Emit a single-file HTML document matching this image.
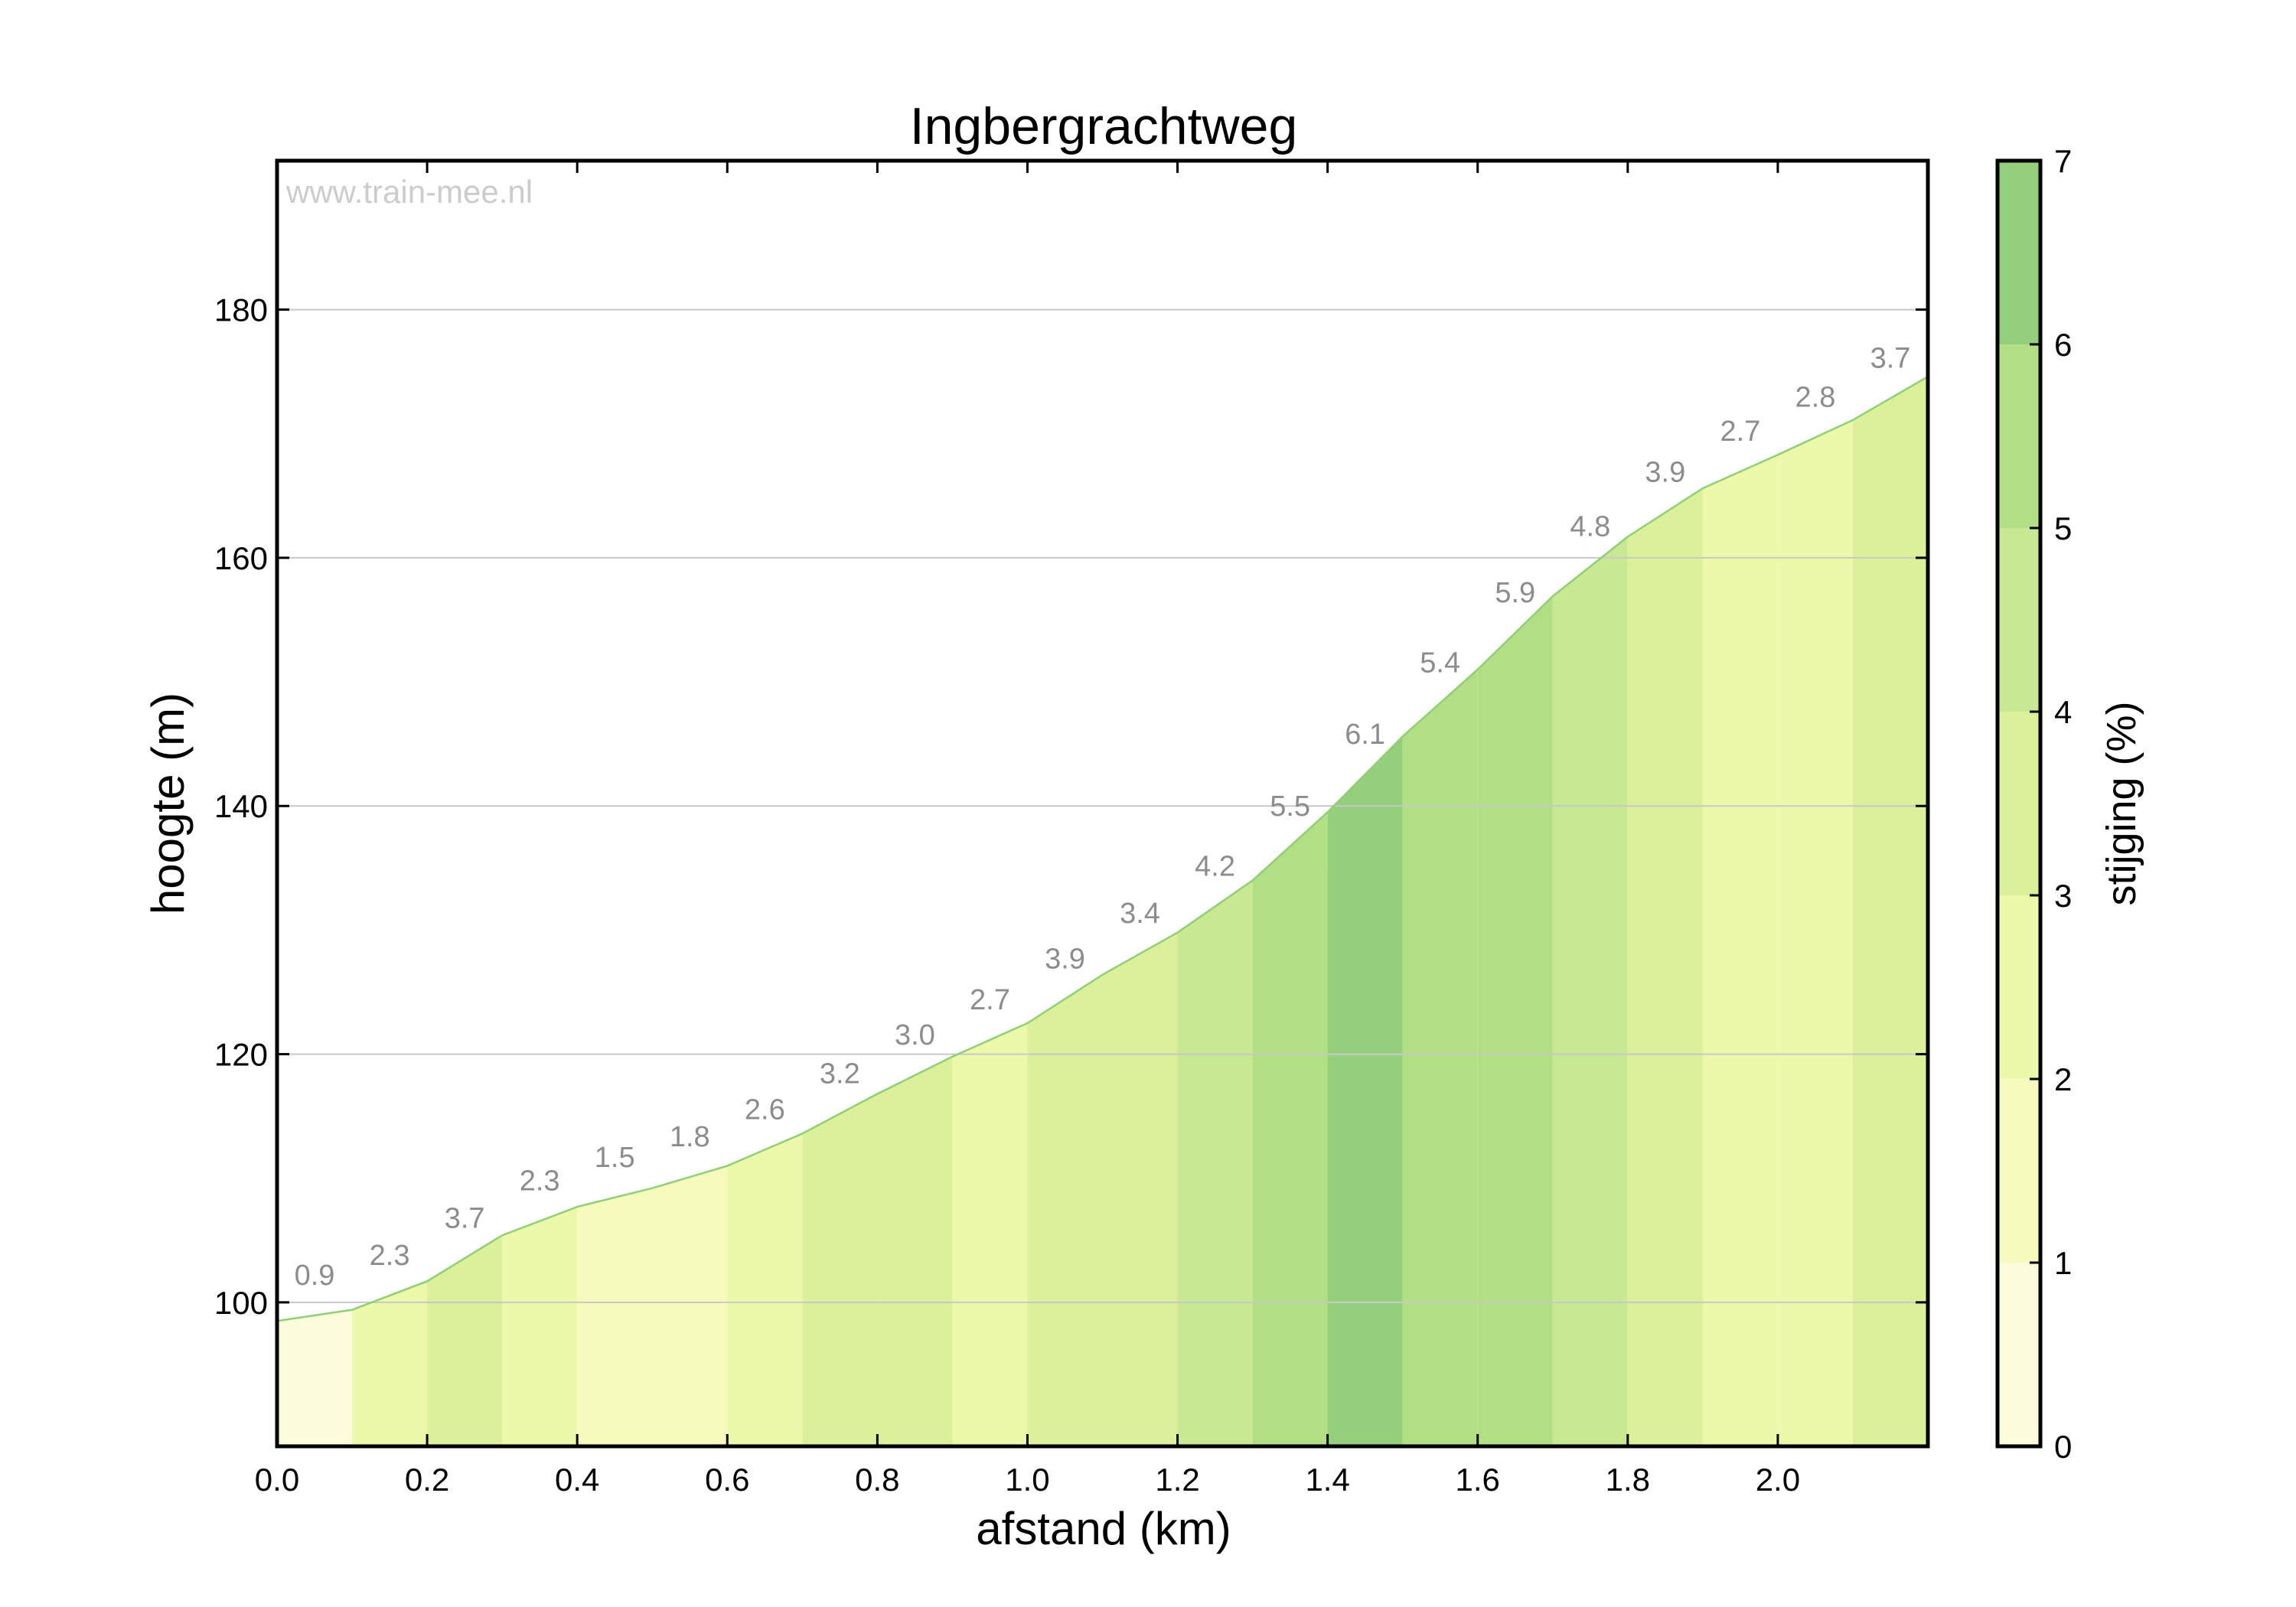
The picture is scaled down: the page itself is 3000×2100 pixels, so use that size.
<!DOCTYPE html>
<html><head><meta charset="utf-8"><style>html,body{margin:0;padding:0;background:#fff}svg{display:block}</style></head>
<body>
<svg id="chart" width="3000" height="2100" xmlns="http://www.w3.org/2000/svg" font-family="Liberation Sans, Arial, sans-serif">
<text x="1442" y="188" font-size="68" text-anchor="middle">Ingbergrachtweg</text>
<g id="plot"></g>
<text x="374" y="265" font-size="42" fill="#cccccc">www.train-mee.nl</text>
<text x="1442" y="2018" font-size="60" text-anchor="middle">afstand (km)</text>
<text x="0" y="0" font-size="60" text-anchor="middle" transform="translate(240,1050) rotate(-90)">hoogte (m)</text>
<g id="cbar"></g>
<text x="0" y="0" font-size="54" text-anchor="middle" transform="translate(2790,1050) rotate(-90)">stijging (%)</text>
</svg>
<script>
const distances = [0.0,0.1,0.2,0.3,0.4,0.5,0.6,0.7,0.8,0.9,1.0,1.1,1.2,1.3,1.4,1.5,1.6,1.7,1.8,1.9,2.0,2.1,2.2];
const elevations = [98.5,99.4,101.7,105.4,107.7,109.2,111.0,113.6,116.8,119.8,122.5,126.4,129.8,134.0,139.5,145.6,151.0,156.9,161.7,165.6,168.3,171.1,174.6];
const grades = [0.9,2.3,3.7,2.3,1.5,1.8,2.6,3.2,3.0,2.7,3.9,3.4,4.2,5.5,6.1,5.4,5.9,4.8,3.9,2.7,2.8,3.7];
const xTicks = [0.0,0.2,0.4,0.6,0.8,1.0,1.2,1.4,1.6,1.8,2.0];
const xTickLabels = ["0.0","0.2","0.4","0.6","0.8","1.0","1.2","1.4","1.6","1.8","2.0"];
const yTicks = [100,120,140,160,180];
const cbarTicks = [0,1,2,3,4,5,6,7];
const binColors = ["#fcfbdc","#f6fbbd","#ecf8aa","#dcf09c","#c8e893","#b2df84","#94d07c"];

const L=362,R=2519,T=210,B=1890;
const xMin=0,xMax=2.2,yMin=88.4,yMax=192.0;
const X=v=>L+(v-xMin)/(xMax-xMin)*(R-L);
const Y=v=>B-(v-yMin)/(yMax-yMin)*(B-T);
const NS="http://www.w3.org/2000/svg";
function mk(tag,attrs,parent){const e=document.createElementNS(NS,tag);for(const k in attrs)e.setAttribute(k,attrs[k]);parent.appendChild(e);return e;}
const plot=document.getElementById('plot');
const colorFor=g=>binColors[Math.max(0,Math.min(6,Math.floor(g)))];

for(let i=0;i<grades.length;i++){
  const x0=X(distances[i]),x1=X(distances[i+1]);
  const p=mk('polygon',{points:`${x0},${B} ${x0},${Y(elevations[i])} ${x1},${Y(elevations[i+1])} ${x1},${B}`,fill:colorFor(grades[i])},plot);
  
  
}
yTicks.forEach(v=>{
  const g=mk('line',{x1:L,x2:R,y1:Y(v),y2:Y(v),stroke:'#c8c8c8','stroke-width':2},plot);
  
  
});
const line=mk('polyline',{points:distances.map((d,i)=>X(d)+','+Y(elevations[i])).join(' '),fill:'none',stroke:'#8fd073','stroke-width':2.5},plot);


for(let i=0;i<grades.length;i++){
  const xm=X((distances[i]+distances[i+1])/2);
  const ym=Y((elevations[i]+elevations[i+1])/2);
  const t=mk('text',{x:xm,y:ym-40,'font-size':38,fill:'#8c8c8c','text-anchor':'middle'},plot);
  t.textContent=grades[i].toFixed(1);
  
  
}
xTicks.forEach((v,i)=>{
  mk('line',{x1:X(v),x2:X(v),y1:B,y2:B-16,stroke:'#000','stroke-width':3},plot);
  mk('line',{x1:X(v),x2:X(v),y1:T,y2:T+16,stroke:'#000','stroke-width':3},plot);
  const t=mk('text',{x:X(v),y:B+58,'font-size':42,'text-anchor':'middle'},plot);
  t.textContent=xTickLabels[i];
  
  
});
yTicks.forEach(v=>{
  mk('line',{x1:L,x2:L+16,y1:Y(v),y2:Y(v),stroke:'#000','stroke-width':3},plot);
  mk('line',{x1:R,x2:R-16,y1:Y(v),y2:Y(v),stroke:'#000','stroke-width':3},plot);
  const t=mk('text',{x:L-12,y:Y(v)+15,'font-size':42,'text-anchor':'end'},plot);
  t.textContent=String(v);
  
  
});
const frame=mk('rect',{x:L,y:T,width:R-L,height:B-T,fill:'none',stroke:'#000','stroke-width':5},plot);



const cb=document.getElementById('cbar');
const CL=2610,CR=2666,cMin=0,cMax=7;
const CY=v=>B-(v-cMin)/(cMax-cMin)*(B-T);
binColors.forEach((c,i)=>{
  const r=mk('rect',{x:CL,y:CY(i+1),width:CR-CL,height:CY(i)-CY(i+1),fill:c},cb);
  
  
});
cbarTicks.forEach(v=>{
  mk('line',{x1:CR,x2:CR-14,y1:CY(v),y2:CY(v),stroke:'#000','stroke-width':3},cb);
  const t=mk('text',{x:CR+18,y:CY(v)+15,'font-size':42},cb);
  t.textContent=String(v);
  
  
});
mk('rect',{x:CL,y:T,width:CR-CL,height:B-T,fill:'none',stroke:'#000','stroke-width':5},cb);
</script>
</body></html>
